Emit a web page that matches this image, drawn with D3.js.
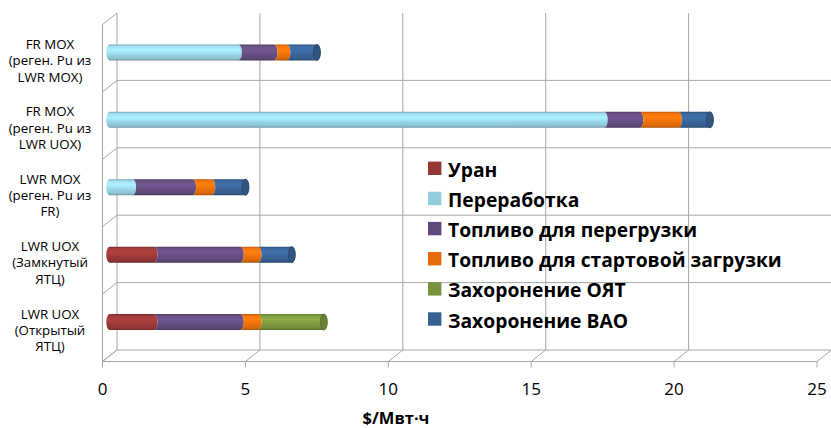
<!DOCTYPE html>
<html>
<head>
<meta charset="utf-8">
<script src="https://cdn.jsdelivr.net/npm/d3@7"></script>
<style>
  html, body { margin: 0; padding: 0; background: #fff; }
  svg { display: block; }
</style>
</head>
<body>
<svg id="chart" width="831" height="428"></svg>
<script>
// Fuel-cycle cost components, $/MWh, per reactor/fuel scenario (top to bottom)
const categories = [
  ["FR MOX", "(реген. Pu из", "LWR MOX)"],
  ["FR MOX", "(реген. Pu из", "LWR UOX)"],
  ["LWR MOX", "(реген. Pu из", "FR)"],
  ["LWR UOX", "(Замкнутый", "ЯТЦ)"],
  ["LWR UOX", "(Открытый", "ЯТЦ)"]
];
const seriesNames = [
  "Уран",
  "Переработка",
  "Топливо для перегрузки",
  "Топливо для стартовой загрузки",
  "Захоронение ОЯТ",
  "Захоронение ВАО"
];
const uran            = [0,    0,    0,    1.55, 1.55];
const pererabotka     = [4.5,  17.3, 0.8,  0,    0];
const toplivoPeregr   = [1.25, 1.25, 2.1,  3.02, 3.02];
const toplivoStart    = [0.45, 1.35, 0.67, 0.62, 0.62];
const zahoronenieOYAT = [0,    0,    0,    0,    2.3];
const zahoronenieVAO  = [1.05, 1.1,  1.18, 1.18, 0];
const seriesValues = [uran, pererabotka, toplivoPeregr, toplivoStart, zahoronenieOYAT, zahoronenieVAO];
const seriesColors = ["#953735", "#93CDDD", "#604A7B", "#E46C0A", "#77933C", "#376092"];
const xTicks = [0, 5, 10, 15, 20, 25];
const xTitle = "$/Мвт·ч";

const svg = d3.select("#chart");
const catKeys = categories.map(c => c.join(" "));

// Front plane of the 3-D box; the back wall is shifted by (depthX, depthY)
const depthX = 14.5, depthY = -11.5;
const x = d3.scaleLinear().domain([0, 25]).range([102.5, 817]);
const y = d3.scaleBand().domain(catKeys).range([24.5, 361.5]);
const yBottom = 361.5, yTop = 24.5;
const gridColor = "#A6A6A6";

const grid = svg.append("g").attr("stroke", gridColor).attr("stroke-width", 1).attr("fill", "none");

// back wall: vertical value lines
xTicks.forEach(t => {
  grid.append("line")
    .attr("x1", x(t) + depthX).attr("x2", x(t) + depthX)
    .attr("y1", yTop + depthY).attr("y2", yBottom + depthY);
});
// back wall: category separators and floor back edge
const seps = catKeys.map(k => y(k)).concat([yBottom]);
seps.slice(1).forEach(s => {
  grid.append("line")
    .attr("x1", x(0) + depthX).attr("x2", x(25) + depthX)
    .attr("y1", s + depthY).attr("y2", s + depthY);
});
// left wall
grid.append("line").attr("x1", x(0)).attr("x2", x(0)).attr("y1", yTop).attr("y2", yBottom);
seps.forEach(s => {
  grid.append("line")
    .attr("x1", x(0)).attr("y1", s)
    .attr("x2", x(0) + depthX).attr("y2", s + depthY);
});
// floor: front edge, depth diagonals and ticks
grid.append("line").attr("x1", x(0)).attr("x2", x(25)).attr("y1", yBottom).attr("y2", yBottom);
xTicks.forEach(t => {
  grid.append("line")
    .attr("x1", x(t)).attr("y1", yBottom)
    .attr("x2", x(t) + depthX).attr("y2", yBottom + depthY);
  grid.append("line")
    .attr("x1", x(t)).attr("x2", x(t))
    .attr("y1", yBottom).attr("y2", yBottom + 6);
});

// cylinder shading gradients
const defs = svg.append("defs");
seriesColors.forEach((c, i) => {
  const base = d3.color(c);
  const g = defs.append("linearGradient").attr("id", "grad" + i)
    .attr("x1", 0).attr("y1", 0).attr("x2", 0).attr("y2", 1);
  const stops = [
    [0, base.darker(0.6)],
    [0.12, base.brighter(0.25)],
    [0.35, base.brighter(0.45)],
    [0.65, base.brighter(0.1)],
    [0.88, base.darker(0.15)],
    [1, base.darker(0.9)]
  ];
  stops.forEach(([o, col]) => g.append("stop").attr("offset", o).attr("stop-color", col.formatHex()));
});

// stacked cylinders sit at mid-depth
const r = 8, rx = 3.5;
const stackData = d3.stack()
  .keys(d3.range(seriesNames.length))
  .value((d, k) => seriesValues[k][d])(d3.range(categories.length));

const bars = svg.append("g");
categories.forEach((cat, ci) => {
  const cy = y(catKeys[ci]) + y.bandwidth() / 2 + depthY / 2;
  const segs = stackData.map((s, k) => ({ k, v0: s[ci][0], v1: s[ci][1] }))
    .filter(d => d.v1 - d.v0 > 0);
  const gBar = bars.append("g");
  segs.forEach((d, idx) => {
    const xa = x(d.v0) + depthX / 2, xb = x(d.v1) + depthX / 2;
    const first = idx === 0;
    const p = `M${xa},${cy - r} L${xb},${cy - r} A${rx},${r} 0 0 1 ${xb},${cy + r} L${xa},${cy + r} A${rx},${r} 0 0 ${first ? 1 : 0} ${xa},${cy - r} Z`;
    gBar.append("path").attr("d", p).attr("fill", `url(#grad${d.k})`);
  });
  const last = segs[segs.length - 1];
  const xe = x(last.v1) + depthX / 2;
  const capCol = d3.color(seriesColors[last.k]);
  gBar.append("ellipse")
    .attr("cx", xe).attr("cy", cy).attr("rx", rx).attr("ry", r)
    .attr("fill", capCol.darker(0.35).formatHex())
    .attr("stroke", capCol.darker(0.9).formatHex()).attr("stroke-width", 0.8);
});

// category labels, centred on the front band
const catG = svg.append("g")
  .attr("font-family", "'Open Sans', sans-serif").attr("font-size", 13.3).attr("fill", "#000")
  .attr("text-anchor", "middle");
categories.forEach((lines, ci) => {
  const cy = y(catKeys[ci]) + y.bandwidth() / 2 + 2;
  const t = catG.append("text").attr("dominant-baseline", "central");
  lines.forEach((ln, li) => {
    t.append("tspan").attr("x", 50).attr("y", cy + (li - 1) * 16.3).text(ln);
  });
});

// value axis labels
const tickG = svg.append("g")
  .attr("font-family", "'Open Sans', sans-serif").attr("font-size", 17).attr("fill", "#000")
  .attr("text-anchor", "middle");
xTicks.forEach(t => {
  tickG.append("text").attr("x", x(t)).attr("y", 388).attr("dominant-baseline", "central").text(t);
});
svg.append("text")
  .attr("x", 396).attr("y", 417).attr("dominant-baseline", "central")
  .attr("text-anchor", "middle")
  .attr("font-family", "'Open Sans', sans-serif").attr("font-weight", "bold").attr("font-size", 16.5)
  .text(xTitle);

// legend
const legG = svg.append("g")
  .attr("font-family", "'Open Sans', sans-serif").attr("font-weight", "bold").attr("fill", "#000");
const legY = d3.scalePoint().domain(seriesNames).range([168.3, 319]);
const items = legG.selectAll("g").data(seriesNames).join("g")
  .attr("transform", d => `translate(428,${legY(d)})`);
items.append("rect").attr("x", 0).attr("y", -6.7).attr("width", 13.4).attr("height", 13.4)
  .attr("fill", (d, i) => seriesColors[i]);
const texts = items.append("text").attr("x", 20).attr("y", 1).attr("dominant-baseline", "central")
  .attr("font-size", 20).text(d => d);
// scale legend font so the longest label spans the legend width
const maxW = d3.max(texts.nodes(), n => n.getComputedTextLength());
texts.attr("font-size", 20 * 334 / maxW);
</script>
</body>
</html>
